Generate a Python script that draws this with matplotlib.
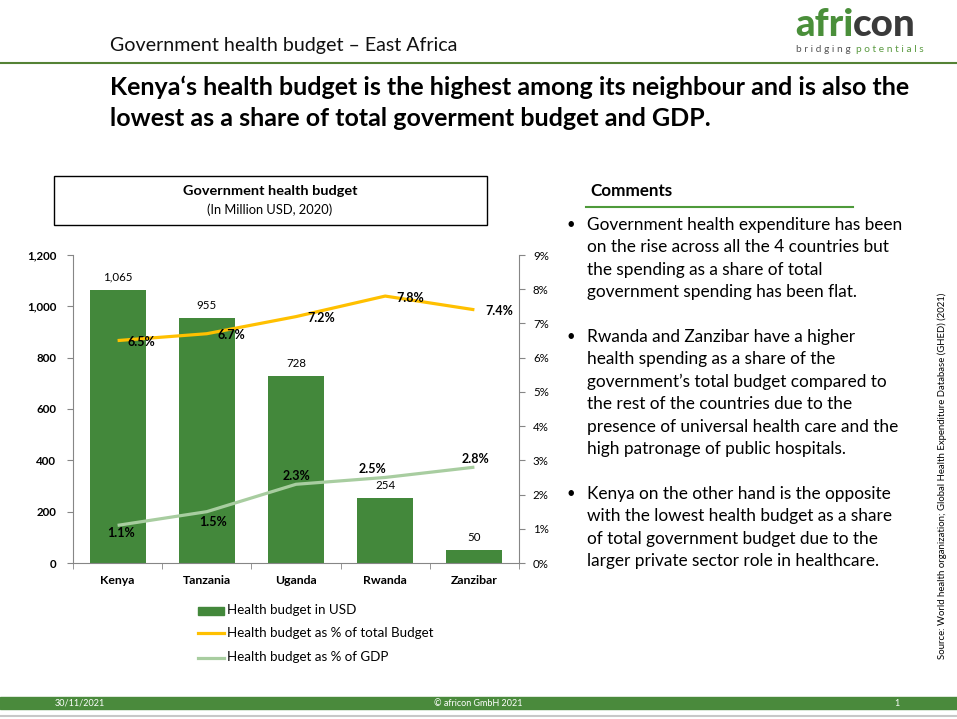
import matplotlib
matplotlib.use('Agg')
import matplotlib.pyplot as plt
from matplotlib.patches import Rectangle
from matplotlib.lines import Line2D
from matplotlib.ticker import FuncFormatter, FixedLocator

# ---------------- data ----------------
countries = ['Kenya', 'Tanzania', 'Uganda', 'Rwanda', 'Zanzibar']
budget_usd = [1065, 955, 728, 254, 50]
share_total_budget = [6.5, 6.7, 7.2, 7.8, 7.4]
share_gdp = [1.1, 1.5, 2.3, 2.5, 2.8]
left_ticks = [0, 200, 400, 600, 800, 1000, 1200]
right_ticks = [0, 1, 2, 3, 4, 5, 6, 7, 8, 9]
legend_labels = ['Health budget in USD', 'Health budget as % of total Budget',
                 'Health budget as % of GDP']

# label offsets (pixels) for line labels
off_total = [(24, -1), (25, -1), (25, -1), (25, -2), (25, -1)]
off_gdp = [(3, -8), (6, -10), (0, 8), (-13, 8), (1, 8)]

GREEN = '#43883B'
ORANGE = '#FFC000'
LGREEN = '#A8CDA0'
GRAY = '#868686'

W, H = 957, 719
plt.rcParams['font.family'] = ['Lato', 'DejaVu Sans']
fig = plt.figure(figsize=(W / 100, H / 100), dpi=100)
fig.patch.set_facecolor('white')


def P(x, y):
    return (x / W, 1 - y / H)


renderer = fig.canvas.get_renderer()


def fit_text(x, y, s, target_w, fs=10, vertical=False, **kw):
    t = fig.text(*P(x, y), s, fontsize=fs, **kw)
    for _ in range(3):
        bb = t.get_window_extent(renderer)
        w = bb.height if vertical else bb.width
        fs = fs * target_w / w
        t.set_fontsize(fs)
    return t, fs


# ---------------- header ----------------
fit_text(110, 46, 'Government health budget \u2013 East Africa', 345, fs=12,
         va='center', ha='left', color='#111111')
fig.add_artist(Line2D([0, 1], [1 - 63 / H] * 2, color='#548235', lw=1.5))

# logo
t1, fsl = fit_text(795, 25, 'afri', 54, fs=24, va='center', ha='left',
                   fontweight='black', color='#4A8F3A')
fsl *= 1.08
t1.set_fontsize(fsl)
bb = t1.get_window_extent(renderer)
fig.text(bb.x1 / W - 0.001, 1 - 25 / H, 'con', fontsize=fsl, va='center', ha='left',
         fontweight='black', color='#3A3A3A')
t2, fsb = fit_text(796, 49, 'b r i d g i n g  ', 60, fs=6, va='center', ha='left',
                   color='#555555')
bb2 = t2.get_window_extent(renderer)
fig.text(bb2.x1 / W, 1 - 49 / H, 'p o t e n t i a l s', fontsize=fsb, va='center',
         ha='left', color='#5A9A40')

# title
_, fst = fit_text(110, 87, 'Kenya\u2018s health budget is the highest among its neighbour and is also the',
                  796, fs=16, va='center', ha='left', fontweight='bold')
fig.text(*P(110, 119), 'lowest as a share of total goverment budget and GDP.',
         fontsize=fst, va='center', ha='left', fontweight='bold')

# ---------------- chart title box ----------------
fig.add_artist(Rectangle(P(54, 225), (487 - 54) / W, (225 - 176) / H,
                         fill=False, edgecolor='black', lw=1))
fit_text(270, 191, 'Government health budget', 174, fs=10,
         fontweight='bold', ha='center', va='center')
fit_text(270, 210, '(In Million USD, 2020)', 126, fs=9.5,
         ha='center', va='center')

# ---------------- chart ----------------
ax = fig.add_axes([73 / W, 1 - 563 / H, (519 - 73) / W, (563 - 255) / H])
x = list(range(len(countries)))
bars = ax.bar(x, budget_usd, width=0.63, color=GREEN, zorder=2)
ax.set_xlim(-0.5, len(countries) - 0.5)
ax.set_ylim(0, 1200)
ax.set_yticks(left_ticks)
ax.yaxis.set_major_formatter(FuncFormatter(lambda v, p: f'{v:,.0f}'))
for lab in ax.get_yticklabels():
    lab.set_fontweight('bold')
ax.tick_params(axis='y', labelsize=8.3, length=4, color=GRAY, pad=8)
ax.set_xticks(x)
ax.set_xticklabels(countries, fontweight='bold', fontsize=8.8)
ax.tick_params(axis='x', length=0, pad=9)
ax.xaxis.set_minor_locator(FixedLocator([i - 0.5 for i in range(len(countries) + 1)]))
ax.tick_params(axis='x', which='minor', length=4, color=GRAY)
for s in ['top', 'right']:
    ax.spines[s].set_visible(False)
for s in ['left', 'bottom']:
    ax.spines[s].set_color(GRAY)
for xi, v in zip(x, budget_usd):
    ax.annotate(f'{v:,}', (xi, v), xytext=(0, 7), textcoords='offset pixels',
                ha='center', va='bottom', fontsize=8.3)

ax2 = ax.twinx()
ax2.set_ylim(0, 9)
ax2.set_yticks(right_ticks)
ax2.yaxis.set_major_formatter(FuncFormatter(lambda v, p: f'{v:.0f}%'))
ax2.tick_params(axis='y', labelsize=8.3, length=4, color=GRAY, pad=6)
for s in ['top', 'left', 'bottom']:
    ax2.spines[s].set_visible(False)
ax2.spines['right'].set_color(GRAY)
ax2.plot(x, share_total_budget, color=ORANGE, lw=2.3, solid_capstyle='butt')
ax2.plot(x, share_gdp, color=LGREEN, lw=2.3, solid_capstyle='butt')
for xi, v, o in zip(x, share_total_budget, off_total):
    ax2.annotate(f'{v:.1f}%', (xi, v), xytext=o, textcoords='offset pixels',
                 ha='center', va='center', fontsize=9, fontweight='bold')
for xi, v, o in zip(x, share_gdp, off_gdp):
    ax2.annotate(f'{v:.1f}%', (xi, v), xytext=o, textcoords='offset pixels',
                 ha='center', va='center', fontsize=9, fontweight='bold')

# ---------------- legend ----------------
fig.add_artist(Rectangle(P(198, 615), 26 / W, 8 / H, color=GREEN))
fig.add_artist(Line2D([198 / W, 224 / W], [1 - 633 / H] * 2, color=ORANGE, lw=2.3))
fig.add_artist(Line2D([198 / W, 224 / W], [1 - 658 / H] * 2, color=LGREEN, lw=2.3))
tl, fsleg = fit_text(227, 633, legend_labels[1], 206, fs=9.5, ha='left', va='center')
for yy, lab in [(610, legend_labels[0]), (657, legend_labels[2])]:
    fig.text(*P(227, yy), lab, fontsize=fsleg, ha='left', va='center')

# ---------------- comments ----------------
fit_text(590, 191, 'Comments', 82, fs=12, fontweight='bold', ha='left', va='center')
fig.add_artist(Line2D([586 / W, 853 / W], [1 - 207 / H] * 2, color='#4E9A3A', lw=1.5))

bullets = [
    (225, ['Government health expenditure has been',
           'on the rise across all the 4 countries but',
           'the spending as a share of total',
           'government spending has been flat.']),
    (337, ['Rwanda and Zanzibar have a higher',
           'health spending as a share of the',
           'government\u2019s total budget compared to',
           'the rest of the countries due to the',
           'presence of universal health care and the',
           'high patronage of public hospitals.']),
    (494, ['Kenya on the other hand is the opposite',
           'with the lowest health budget as a share',
           'of total government budget due to the',
           'larger private sector role in healthcare.']),
]
tmp, fsc = fit_text(587, -100, bullets[0][1][0], 317, fs=12, ha='left', va='center')
tmp.remove()
for y0, lines in bullets:
    fig.text(*P(571, y0), '\u2022', fontsize=fsc * 0.85, ha='center', va='center')
    for i, ln in enumerate(lines):
        fig.text(*P(587, y0 + i * 22.4), ln, fontsize=fsc, ha='left', va='center')

# ---------------- source ----------------
fit_text(942, 476, 'Source: World health organization; Global Health Expenditure Database (GHED) (2021)',
         372, fs=7, vertical=True, rotation=90, ha='center', va='center',
         rotation_mode='anchor')

# ---------------- footer ----------------
fig.add_artist(Rectangle(P(0, 709), 1, 12 / H, color='#4A8A3C'))
fig.text(*P(55, 703), '30/11/2021', fontsize=6.5, color='white', ha='left', va='center')
fig.text(*P(478, 703), '\u00a9 africon GmbH 2021', fontsize=6.5, color='white',
         ha='center', va='center')
fig.text(*P(897, 703), '1', fontsize=6.5, color='white', ha='center', va='center')
fig.add_artist(Line2D([0, 1], [1 - 716 / H] * 2, color='#C8C8C8', lw=1.5))

fig.savefig('out.png', dpi=100)
